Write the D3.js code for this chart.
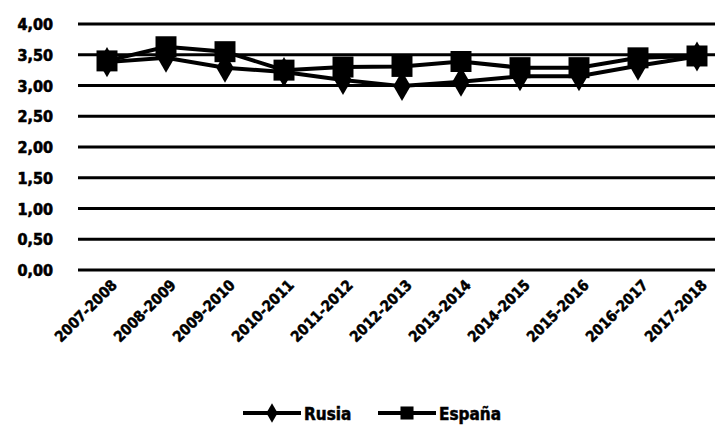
<!DOCTYPE html>
<html><head><meta charset="utf-8">
<script src="https://cdn.jsdelivr.net/npm/d3@7"></script>
<style>body{margin:0;background:#fff}svg{display:block}</style>
</head><body>
<svg id="c" width="715" height="431"></svg>
<script>
const categories = ["2007-2008","2008-2009","2009-2010","2010-2011","2011-2012","2012-2013","2013-2014","2014-2015","2015-2016","2016-2017","2017-2018"];
const rusia  = [3.38,3.45,3.29,3.22,3.09,2.99,3.06,3.15,3.15,3.32,3.47];
const espana = [3.40,3.63,3.55,3.25,3.30,3.31,3.39,3.29,3.29,3.45,3.48];
const yTicks = [0,0.5,1,1.5,2,2.5,3,3.5,4];
const seriesNames = ["Rusia","España"];

const svg = d3.select("#c");
const font = "'DejaVu Sans Condensed','DejaVu Sans',sans-serif";
const x = d3.scalePoint().domain(categories).range([107,697]);
const y = d3.scaleLinear().domain([0,4]).range([270,24]);

// gridlines
svg.append("g").selectAll("line").data(yTicks).join("line")
  .attr("x1",78).attr("x2",715).attr("y1",d=>y(d)).attr("y2",d=>y(d))
  .attr("stroke","#000").attr("stroke-width",3);

// y labels
svg.append("g").selectAll("text").data(yTicks).join("text")
  .attr("x",53).attr("y",d=>y(d)+6).attr("text-anchor","end")
  .attr("font-family",font).attr("font-weight","bold").attr("font-size",16)
  .attr("stroke","#000").attr("stroke-width",0.6)
  .text(d=>d.toFixed(2).replace(".",","));

// x labels
svg.append("g").selectAll("text").data(categories).join("text")
  .attr("transform",d=>`translate(${x(d)+11},${286}) rotate(-45)`)
  .attr("text-anchor","end")
  .attr("font-family",font).attr("font-weight","bold").attr("font-size",15)
  .attr("stroke","#000").attr("stroke-width",0.5)
  .text(d=>d);

const line = d3.line().x((d,i)=>x(categories[i])).y(d=>y(d));
function drawSeries(vals, kind){
  svg.append("path").datum(vals).attr("d",line).attr("fill","none")
    .attr("stroke","#000").attr("stroke-width",4);
  const sym = kind==="sq" ? d3.symbol(d3.symbolSquare,440) : d3.symbol(d3.symbolDiamond,260);
  svg.append("g").selectAll("path").data(vals).join("path")
    .attr("transform",(d,i)=>`translate(${x(categories[i])},${y(d)})`)
    .attr("d",sym).attr("fill","#000");
}
drawSeries(rusia,"di");
drawSeries(espana,"sq");

// legend
const lg = [{name:seriesNames[0],x0:243,kind:"di"},{name:seriesNames[1],x0:378,kind:"sq"}];
lg.forEach(l=>{
  svg.append("line").attr("x1",l.x0).attr("x2",l.x0+58).attr("y1",413).attr("y2",413)
    .attr("stroke","#000").attr("stroke-width",4);
  svg.append("path").attr("transform",`translate(${l.x0+29},413)`)
    .attr("d", l.kind==="sq"?d3.symbol(d3.symbolSquare,170)():d3.symbol(d3.symbolDiamond,110)())
    .attr("fill","#000");
  svg.append("text").attr("x",l.x0+61).attr("y",420)
    .attr("font-family",font).attr("font-weight","bold").attr("font-size",17)
    .attr("stroke","#000").attr("stroke-width",0.5)
    .text(l.name);
});
</script>
</body></html>
